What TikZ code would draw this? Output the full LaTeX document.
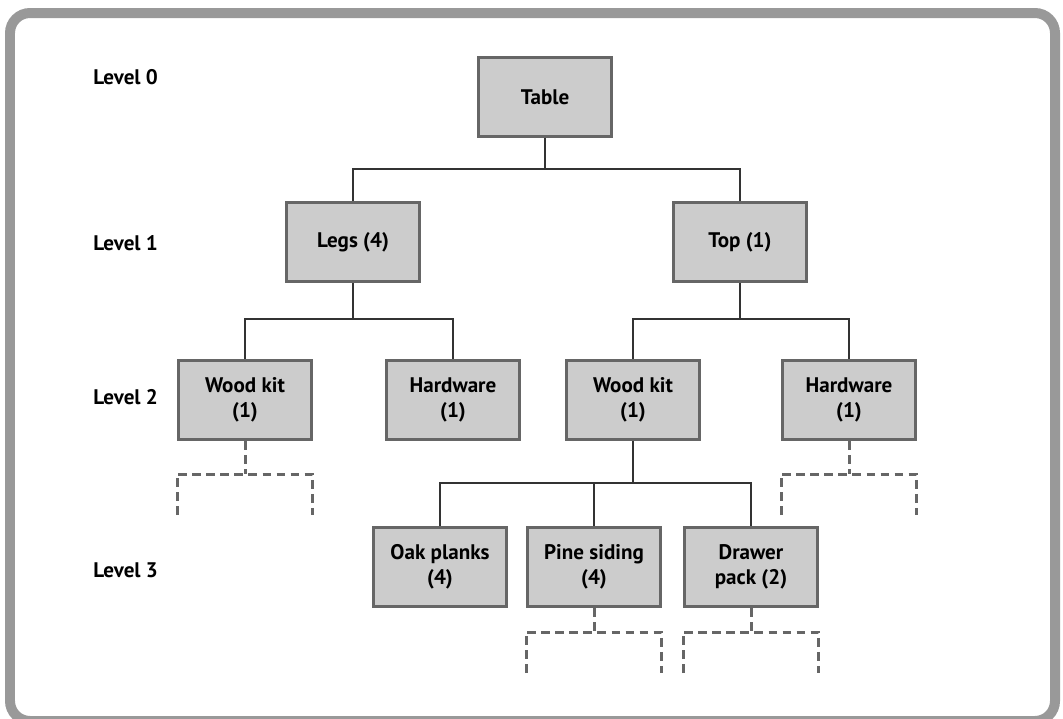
\documentclass[tikz,border=0pt]{standalone}
\usepackage{fontspec}
\setmainfont{PT Sans}
\definecolor{boxfill}{HTML}{CCCCCC}
\definecolor{boxline}{HTML}{666666}
\definecolor{framegray}{HTML}{999999}
\definecolor{linkgray}{HTML}{333333}
\begin{document}
\begin{tikzpicture}[x=0.02cm,y=-0.02cm,
        part/.style={rectangle,draw=boxline,fill=boxfill,line width=0.06cm,
            minimum width=2.66cm,minimum height=1.58cm,align=center,
            font=\fontsize{12}{14.2}\selectfont\bfseries},
        level/.style={anchor=west,inner sep=0pt,font=\fontsize{12}{14.2}\selectfont\bfseries}]
        \tikzset{edge/.style = {draw=linkgray,line width=0.045cm}}
        \tikzset{stub/.style = {draw=boxline,line width=0.06cm,dash pattern=on 5pt off 3pt}}
        \useasboundingbox (0,0) rectangle (1063,718);
        \draw[framegray,line width=0.2cm,rounded corners=0.4cm] (10,13) rectangle (1055,721);

        \node[level] (L0) at (93,77) {Level 0};
        \node[level] (L1) at (93,243) {Level 1};
        \node[level] (L2) at (93,397) {Level 2};
        \node[level] (L3) at (93,570) {Level 3};

        \node[part] (table) at (545,97) {Table};
        \node[part] (legs) at (353,242) {Legs (4)};
        \node[part] (top) at (740,242) {Top (1)};
        \node[part] (woodL) at (245,400) {Wood kit\\(1)};
        \node[part] (hardL) at (453,400) {Hardware\\(1)};
        \node[part] (woodR) at (633,400) {Wood kit\\(1)};
        \node[part] (hardR) at (849,400) {Hardware\\(1)};
        \node[part] (oak) at (440,567) {Oak planks\\(4)};
        \node[part] (pine) at (594,567) {Pine siding\\(4)};
        \node[part] (drawer) at (751,567) {Drawer\\pack (2)};

        \draw[edge] (table.south) -- ++(0,31) -| (legs.north);
        \draw[edge] (table.south) -- ++(0,31) -| (top.north);
        \draw[edge] (legs.south) -- ++(0,36) -| (woodL.north);
        \draw[edge] (legs.south) -- ++(0,36) -| (hardL.north);
        \draw[edge] (top.south) -- ++(0,36) -| (woodR.north);
        \draw[edge] (top.south) -- ++(0,36) -| (hardR.north);
        \draw[edge] (woodR.south) -- ++(0,42) -| (oak.north);
        \draw[edge] (woodR.south) -- ++(0,42) -| (pine.north);
        \draw[edge] (woodR.south) -- ++(0,42) -| (drawer.north);

        % parts that are not broken down any further
        \foreach \n/\d in {woodL/33,hardR/33,pine/24,drawer/24} {
            \draw[stub] (\n.south) -- ++(0,\d) coordinate (\n-j);
            \draw[stub] (\n.south west |- \n-j) ++(0,41) -- (\n.south west |- \n-j)
                -- (\n.south east |- \n-j) -- ++(0,41);
        }
\end{tikzpicture}
\end{document}
